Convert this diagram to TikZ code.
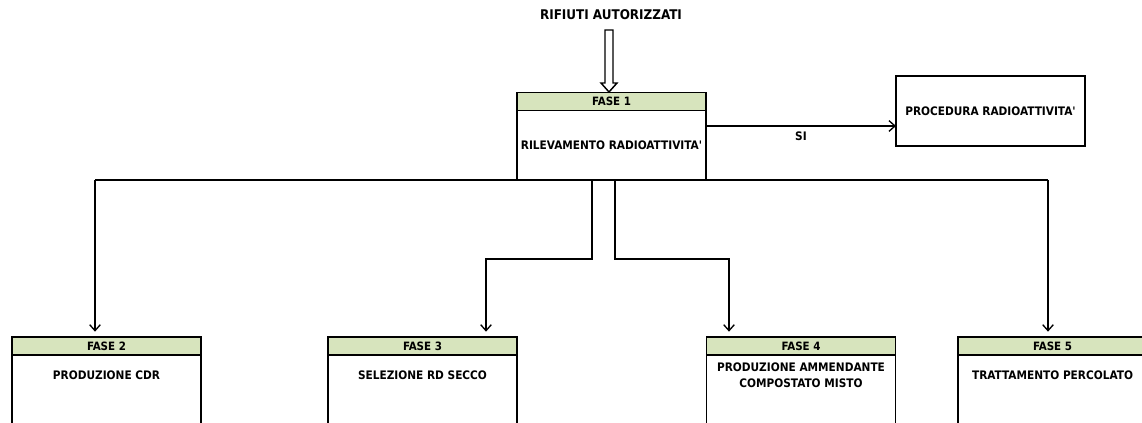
\documentclass[tikz,border=0pt]{standalone}
\usepackage{fontspec}
\setmainfont{DejaVu Sans Condensed}
\usetikzlibrary{arrows.meta, positioning, calc}
\definecolor{fasegreen}{HTML}{D7E4BD}

\tikzset{
  hdr/.style={draw, line width=1.4pt, fill=fasegreen, minimum width=189*0.75pt,
    minimum height=18*0.75pt, inner sep=0pt, outer sep=0pt,
    font=\bfseries\fontsize{8.6}{10}\selectfont},
  body/.style={draw, line width=1.4pt, minimum width=189*0.75pt, inner sep=0pt,
    outer sep=0pt, align=center, font=\bfseries\fontsize{8.8}{10}\selectfont},
  txt/.style={align=center, inner sep=0pt, font=\bfseries\fontsize{8.8}{11.8}\selectfont},
  arr/.style={line width=1pt, -{Straight Barb[length=4.5pt,width=8pt]}, shorten >=4pt},
  link/.style={line width=1pt}
}

\begin{document}
\begin{tikzpicture}[x=0.75pt, y=-0.75pt]
\useasboundingbox (0,0) rectangle (1142,423);
\clip (0,0) rectangle (1142,423);

% input and phase 1
\node[txt, font=\bfseries\fontsize{10}{12}\selectfont] (input) at (611,15) {RIFIUTI AUTORIZZATI};
\node[hdr] (f1h) at (611.5,101.5) {FASE 1};
\node[body, below=0pt of f1h, minimum height=70*0.75pt] (f1) {RILEVAMENTO RADIOATTIVITA\textquotesingle};
% hollow input arrow
\draw[line width=1.1pt, fill=white] (605,30) -- (613,30) -- (613,83) -- (617,83)
  -- (609,92) -- (601,83) -- (605,83) -- cycle;

% radioactivity procedure
\node[body, minimum height=70*0.75pt] (proc) at (990.5,111) {PROCEDURA RADIOATTIVITA\textquotesingle};
\coordinate (si) at (f1.east |- 0,126);
\draw[arr, shorten >=0pt] (si) -- (si -| proc.west) node[midway, below=4pt, txt] {SI};

% phases 2 to 5
\node[hdr] (f2h) at (106.5,346) {FASE 2};
\node[hdr] (f3h) at (422.5,346) {FASE 3};
\node[hdr] (f4h) at (801,346) {FASE 4};
\node[hdr] (f5h) at (1052.5,346) {FASE 5};
\foreach \n in {2,3,4,5}
  \node[body, below=0pt of f\n h, minimum height=110*0.75pt] (f\n) {};
\node[txt] (f2t) at ($(f2h.south)+(0,20)$) {PRODUZIONE CDR};
\node[txt] (f3t) at ($(f3h.south)+(0,20)$) {SELEZIONE RD SECCO};
\node[txt] (f4t) at ($(f4h.south)+(0,20)$) {PRODUZIONE AMMENDANTE\\COMPOSTATO MISTO};
\node[txt] (f5t) at ($(f5h.south)+(0,20)$) {TRATTAMENTO PERCOLATO};

% connectors
\coordinate (d2) at (95,180);
\coordinate (d5) at (1048,180);
\coordinate (d3a) at (592,180);
\coordinate (d4a) at (615,180);
\coordinate (d3) at (486,259);
\coordinate (d4) at (729,259);
\draw[link] (d2) -- (d5);
\draw[arr] (d2) -- (d2 |- f2h.north);
\draw[arr] (d5) -- (d5 |- f5h.north);
\draw[arr] (d3a) |- (d3) -- (d3 |- f3h.north);
\draw[arr] (d4a) |- (d4) -- (d4 |- f4h.north);
\end{tikzpicture}
\end{document}
